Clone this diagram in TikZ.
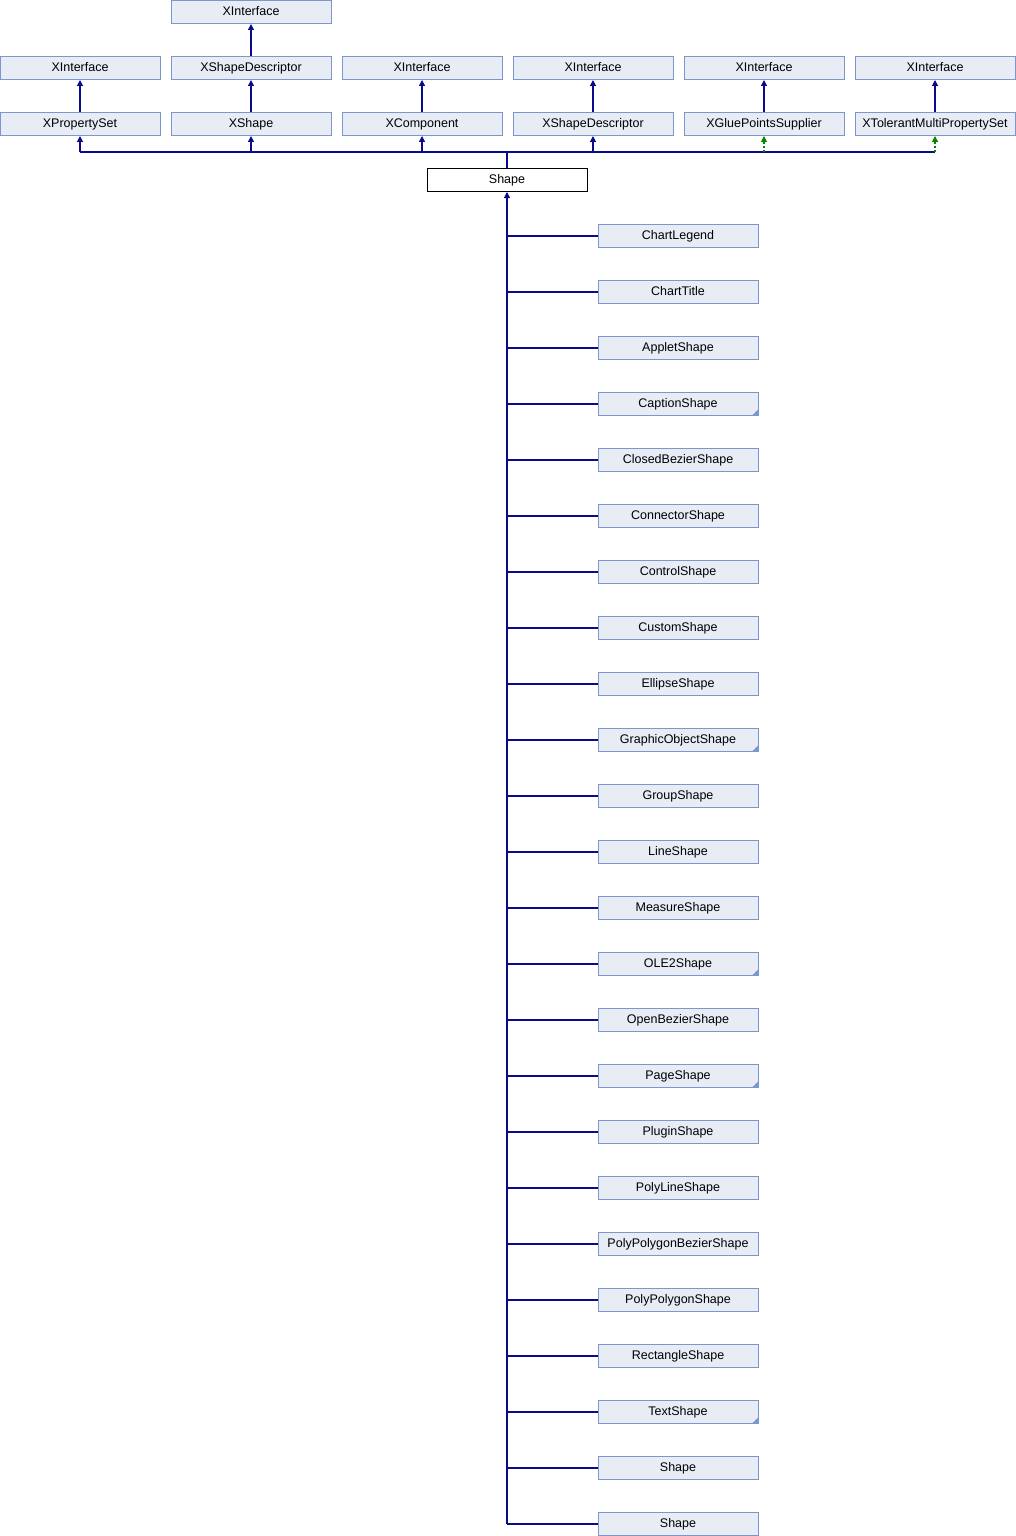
\documentclass[tikz,border=0pt]{standalone}
\usepackage{fontspec}
\setmainfont{Liberation Sans}
\usepackage{tikz}
\usetikzlibrary{arrows.meta}

\definecolor{boxfill}{RGB}{232,236,245}
\definecolor{boxline}{RGB}{124,150,206}
\definecolor{edgeblue}{RGB}{10,10,140}
\definecolor{edgegreen}{RGB}{0,135,0}

\tikzset{
  cls/.style={draw=boxline, fill=boxfill, line width=1pt, minimum width=160pt,
    minimum height=23pt, inner sep=0pt, text height=9pt, text depth=2.5pt,
    font=\fontsize{12.5}{14}\selectfont},
  focus/.style={cls, draw=black, fill=white},
  more/.style={path picture={\fill[boxline]
    ([xshift=-6pt]path picture bounding box.south east) --
    (path picture bounding box.south east) --
    ([yshift=6pt]path picture bounding box.south east) -- cycle;}},
  link/.style={draw=edgeblue, line width=1.2pt},
  inh/.style={link, -{Triangle[length=6pt,width=6pt]}},
  prot/.style={inh, draw=edgegreen, dash pattern=on 2pt off 2pt}
}

\begin{document}
\begin{tikzpicture}[x=1pt, y=-1pt]
  \useasboundingbox (0,0) rectangle (1016,1536);

  % Interfaces
  \node[cls] (xifA) at (251,12) {XInterface};
  \node[cls] (xif1) at (80,68) {XInterface};
  \node[cls] (xshdescA) at (251,68) {XShapeDescriptor};
  \node[cls] (xif3) at (422,68) {XInterface};
  \node[cls] (xif4) at (593,68) {XInterface};
  \node[cls] (xif5) at (764,68) {XInterface};
  \node[cls] (xif6) at (935,68) {XInterface};

  \node[cls] (xpropset) at (80,124) {XPropertySet};
  \node[cls] (xshape) at (251,124) {XShape};
  \node[cls] (xcomp) at (422,124) {XComponent};
  \node[cls] (xshdesc) at (593,124) {XShapeDescriptor};
  \node[cls] (xglue) at (764,124) {XGluePointsSupplier};
  \node[cls] (xtolerant) at (935,124) {XTolerantMultiPropertySet};

  \draw[inh] (xshdescA) -- (xifA);
  \draw[inh] (xpropset) -- (xif1);
  \draw[inh] (xshape) -- (xshdescA);
  \draw[inh] (xcomp) -- (xif3);
  \draw[inh] (xshdesc) -- (xif4);
  \draw[inh] (xglue) -- (xif5);
  \draw[inh] (xtolerant) -- (xif6);

  % Shape itself
  \node[focus] (shape) at (507,180) {Shape};
  \coordinate (bus) at (507,152);
  \draw[link] (shape.north) -- (bus);
  \draw[link] (bus -| xpropset) -- (bus -| xtolerant);
  \draw[inh] (bus -| xpropset) -- (xpropset);
  \draw[inh] (bus -| xshape) -- (xshape);
  \draw[inh] (bus -| xcomp) -- (xcomp);
  \draw[inh] (bus -| xshdesc) -- (xshdesc);
  \draw[prot] (bus -| xglue) -- (xglue);
  \draw[prot] (bus -| xtolerant) -- (xtolerant);

  % Derived shapes
  \node[cls] (legend) at (678,236) {ChartLegend};
  \node[cls] (title) at (678,292) {ChartTitle};
  \node[cls] (applet) at (678,348) {AppletShape};
  \node[cls, more] (caption) at (678,404) {CaptionShape};
  \node[cls] (closedbez) at (678,460) {ClosedBezierShape};
  \node[cls] (connector) at (678,516) {ConnectorShape};
  \node[cls] (control) at (678,572) {ControlShape};
  \node[cls] (custom) at (678,628) {CustomShape};
  \node[cls] (ellipse) at (678,684) {EllipseShape};
  \node[cls, more] (graphic) at (678,740) {GraphicObjectShape};
  \node[cls] (group) at (678,796) {GroupShape};
  \node[cls] (line) at (678,852) {LineShape};
  \node[cls] (measure) at (678,908) {MeasureShape};
  \node[cls, more] (ole) at (678,964) {OLE2Shape};
  \node[cls] (openbez) at (678,1020) {OpenBezierShape};
  \node[cls, more] (page) at (678,1076) {PageShape};
  \node[cls] (plugin) at (678,1132) {PluginShape};
  \node[cls] (polyline) at (678,1188) {PolyLineShape};
  \node[cls] (polybez) at (678,1244) {PolyPolygonBezierShape};
  \node[cls] (polypoly) at (678,1300) {PolyPolygonShape};
  \node[cls] (rect) at (678,1356) {RectangleShape};
  \node[cls, more] (text) at (678,1412) {TextShape};
  \node[cls] (shapeA) at (678,1468) {Shape};
  \node[cls] (shapeB) at (678,1524) {Shape};

  \draw[inh] (shape.south |- shapeB) -- (shape);
  \foreach \c in {legend,title,applet,caption,closedbez,connector,control,
    custom,ellipse,graphic,group,line,measure,ole,openbez,page,plugin,
    polyline,polybez,polypoly,rect,text,shapeA,shapeB}
    \draw[link] (\c.west) -- (\c.west -| shape);
\end{tikzpicture}
\end{document}
